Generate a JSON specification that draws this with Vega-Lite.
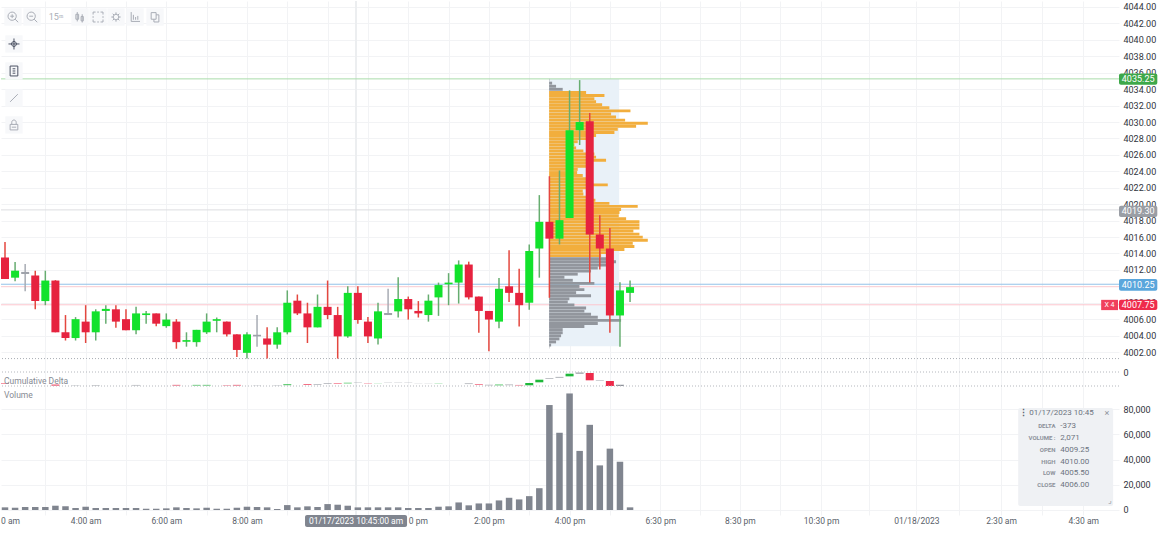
{"$schema":"https://vega.github.io/schema/vega-lite/v6.json","padding":0,"background":"white","bounds":"flush","spacing":0,"config":{"view":{"stroke":null},"font":"Roboto","concat":{"spacing":0},"scale":{"continuousPadding":0},"axis":{"labelOverlap":false,"labelBound":false,"labelFlush":false}},
"datasets":{
"candles":[
{"i":0,"o":4013.5,"h":4015.4,"l":4010.9,"c":4010.9,"d":"down"},{"i":1,"o":4011.05,"h":4012.95,"l":4010.6,"c":4011.9,"d":"up"},{"i":2,"o":4011.5,"h":4012.7,"l":4009.4,"c":4011.75,"d":"flat"},{"i":3,"o":4011.3,"h":4011.9,"l":4007.2,"c":4008.2,"d":"down"},{"i":4,"o":4008.2,"h":4011.9,"l":4007.7,"c":4010.7,"d":"up"},{"i":5,"o":4010.7,"h":4010.75,"l":4004.4,"c":4004.4,"d":"down"},{"i":6,"o":4004.4,"h":4006.5,"l":4003.4,"c":4003.7,"d":"down"},{"i":7,"o":4003.7,"h":4006.25,"l":4003.4,"c":4006,"d":"up"},{"i":8,"o":4005.7,"h":4007.7,"l":4003.1,"c":4004.4,"d":"down"},{"i":9,"o":4004.4,"h":4007.2,"l":4003.4,"c":4006.95,"d":"up"},
{"i":10,"o":4007,"h":4007.7,"l":4005.45,"c":4007.25,"d":"up"},{"i":11,"o":4007.2,"h":4007.7,"l":4004.95,"c":4005.7,"d":"down"},{"i":12,"o":4006,"h":4007.2,"l":4004.65,"c":4004.65,"d":"down"},{"i":13,"o":4004.65,"h":4007.5,"l":4004.15,"c":4006.7,"d":"up"},{"i":14,"o":4006.5,"h":4007,"l":4005.45,"c":4006.7,"d":"up"},{"i":15,"o":4006.7,"h":4006.7,"l":4005.15,"c":4005.45,"d":"down"},{"i":16,"o":4005.15,"h":4006.7,"l":4004.95,"c":4005.95,"d":"up"},{"i":17,"o":4005.7,"h":4006,"l":4002.4,"c":4003.2,"d":"down"},{"i":18,"o":4003.25,"h":4004.4,"l":4002.65,"c":4003.45,"d":"up"},{"i":19,"o":4003.2,"h":4004.7,"l":4002.65,"c":4004.7,"d":"up"},
{"i":20,"o":4004.4,"h":4006.7,"l":4004.2,"c":4005.7,"d":"up"},{"i":21,"o":4005.8,"h":4006.2,"l":4004.4,"c":4006,"d":"up"},{"i":22,"o":4005.7,"h":4005.7,"l":4003.9,"c":4004.15,"d":"down"},{"i":23,"o":4004.15,"h":4004.15,"l":4001.4,"c":4002.25,"d":"down"},{"i":24,"o":4001.9,"h":4004.4,"l":4001.2,"c":4004.15,"d":"up"},{"i":25,"o":4003.9,"h":4006.5,"l":4002.65,"c":4004.1,"d":"flat"},{"i":26,"o":4003.65,"h":4005,"l":4001.2,"c":4002.9,"d":"down"},{"i":27,"o":4002.9,"h":4005,"l":4002.4,"c":4004.4,"d":"up"},{"i":28,"o":4004.4,"h":4009.5,"l":4004.15,"c":4008,"d":"up"},{"i":29,"o":4008.25,"h":4009,"l":4006.5,"c":4006.7,"d":"down"},
{"i":30,"o":4006.7,"h":4008,"l":4003.1,"c":4005,"d":"down"},{"i":31,"o":4005,"h":4009,"l":4005,"c":4007.5,"d":"up"},{"i":32,"o":4007.5,"h":4010.7,"l":4006,"c":4006.5,"d":"down"},{"i":33,"o":4006.5,"h":4007.5,"l":4001.2,"c":4003.9,"d":"down"},{"i":34,"o":4003.9,"h":4010,"l":4003.75,"c":4009.2,"d":"up"},{"i":35,"o":4009.2,"h":4010,"l":4005.45,"c":4005.9,"d":"down"},{"i":36,"o":4005.7,"h":4006.25,"l":4003.1,"c":4003.9,"d":"down"},{"i":37,"o":4003.65,"h":4008,"l":4002.9,"c":4006.95,"d":"up"},{"i":38,"o":4006.5,"h":4009.7,"l":4006.5,"c":4006.75,"d":"flat"},{"i":39,"o":4006.95,"h":4011.1,"l":4006.2,"c":4008.45,"d":"up"},
{"i":40,"o":4008.45,"h":4008.75,"l":4005.95,"c":4007.2,"d":"down"},{"i":41,"o":4007,"h":4008.2,"l":4006.2,"c":4006.7,"d":"down"},{"i":42,"o":4006.5,"h":4009,"l":4005.7,"c":4008.25,"d":"up"},{"i":43,"o":4008.65,"h":4010.45,"l":4006.4,"c":4010.15,"d":"up"},{"i":44,"o":4010.25,"h":4011.6,"l":4007.7,"c":4010.45,"d":"up"},{"i":45,"o":4010.45,"h":4013.15,"l":4007.9,"c":4012.65,"d":"up"},{"i":46,"o":4012.65,"h":4013,"l":4008.4,"c":4008.65,"d":"down"},{"i":47,"o":4008.75,"h":4008.75,"l":4004.35,"c":4007,"d":"down"},{"i":48,"o":4007,"h":4007,"l":4002.1,"c":4005.95,"d":"down"},{"i":49,"o":4005.7,"h":4011,"l":4004.9,"c":4009.7,"d":"up"},
{"i":50,"o":4010,"h":4014.4,"l":4008.1,"c":4009.2,"d":"down"},{"i":51,"o":4009.2,"h":4012.15,"l":4005.1,"c":4007.7,"d":"down"},{"i":52,"o":4008,"h":4015.1,"l":4007.15,"c":4014.3,"d":"up"},{"i":53,"o":4014.6,"h":4021.1,"l":4011.05,"c":4017.85,"d":"up"},{"i":54,"o":4017.85,"h":4023.4,"l":4008.6,"c":4015.8,"d":"down"},{"i":55,"o":4015.8,"h":4024.1,"l":4015.1,"c":4018.05,"d":"up"},{"i":56,"o":4018.3,"h":4033.85,"l":4018.3,"c":4029,"d":"up"},{"i":57,"o":4029,"h":4035.1,"l":4027.2,"c":4030,"d":"up"},{"i":58,"o":4030.1,"h":4031.1,"l":4010.45,"c":4016.3,"d":"down"},{"i":59,"o":4016.3,"h":4018.65,"l":4012.05,"c":4014.6,"d":"down"},
{"i":60,"o":4014.6,"h":4017.1,"l":4004.35,"c":4006.45,"d":"down"},{"i":61,"o":4006.45,"h":4010.5,"l":4002.65,"c":4009.5,"d":"up"},{"i":62,"o":4009.2,"h":4010.7,"l":4008.1,"c":4009.9,"d":"up"}],
"profile":[
{"p":4035.1,"e":54,"z":"out"},{"p":4034.73,"e":54.27,"z":"out"},{"p":4034.35,"e":54.66,"z":"out"},{"p":4033.98,"e":55.32,"z":"out"},{"p":4033.6,"e":57.64,"z":"va"},{"p":4033.23,"e":59.46,"z":"va"},{"p":4032.85,"e":58.46,"z":"va"},{"p":4032.48,"e":58.63,"z":"va"},{"p":4032.1,"e":59.23,"z":"va"},{"p":4031.73,"e":59.95,"z":"va"},{"p":4031.35,"e":62.04,"z":"va"},{"p":4030.98,"e":60.12,"z":"va"},{"p":4030.6,"e":60.61,"z":"va"},{"p":4030.23,"e":61.51,"z":"va"},{"p":4029.85,"e":63.76,"z":"va"},{"p":4029.48,"e":62.6,"z":"va"},{"p":4029.1,"e":60.78,"z":"va"},{"p":4028.73,"e":60.45,"z":"va"},{"p":4028.35,"e":58.63,"z":"va"},{"p":4027.98,"e":57.8,"z":"va"},{"p":4027.6,"e":56.81,"z":"va"},{"p":4027.23,"e":56.48,"z":"va"},{"p":4026.85,"e":56.65,"z":"va"},{"p":4026.48,"e":57.37,"z":"va"},{"p":4026.1,"e":58.46,"z":"va"},{"p":4025.73,"e":58.63,"z":"va"},{"p":4025.35,"e":59.62,"z":"va"},{"p":4024.98,"e":58.13,"z":"va"},{"p":4024.6,"e":57.8,"z":"va"},{"p":4024.23,"e":56.81,"z":"va"},{"p":4023.85,"e":56.75,"z":"va"},{"p":4023.48,"e":57.31,"z":"va"},{"p":4023.1,"e":57.64,"z":"va"},{"p":4022.73,"e":58.04,"z":"va"},{"p":4022.35,"e":59.79,"z":"va"},{"p":4021.98,"e":57.9,"z":"va"},{"p":4021.6,"e":57.31,"z":"va"},{"p":4021.23,"e":57.37,"z":"va"},{"p":4020.85,"e":58.2,"z":"va"},{"p":4020.48,"e":58.56,"z":"va"},{"p":4020.1,"e":59.95,"z":"va"},{"p":4019.73,"e":62.76,"z":"va"},{"p":4019.35,"e":61.11,"z":"va"},{"p":4018.98,"e":60.95,"z":"va"},{"p":4018.6,"e":60.88,"z":"va"},{"p":4018.23,"e":61.61,"z":"va"},{"p":4017.85,"e":62.93,"z":"va"},{"p":4017.48,"e":62.93,"z":"va"},{"p":4017.1,"e":62.93,"z":"va"},{"p":4016.73,"e":62.33,"z":"va"},{"p":4016.35,"e":62.93,"z":"va"},{"p":4015.98,"e":63.26,"z":"va"},{"p":4015.6,"e":63.76,"z":"va"},{"p":4015.23,"e":62.27,"z":"va"},{"p":4014.85,"e":62.43,"z":"va"},{"p":4014.48,"e":61.44,"z":"va"},{"p":4014.1,"e":59.95,"z":"va"},{"p":4013.73,"e":59.13,"z":"va"},{"p":4013.35,"e":59.95,"z":"out"},{"p":4012.98,"e":60.61,"z":"out"},{"p":4012.6,"e":59.79,"z":"out"},{"p":4012.23,"e":58.8,"z":"out"},{"p":4011.85,"e":58.13,"z":"out"},{"p":4011.48,"e":56.81,"z":"out"},{"p":4011.1,"e":55.49,"z":"out"},{"p":4010.73,"e":56.32,"z":"out"},{"p":4010.35,"e":58.46,"z":"out"},{"p":4009.98,"e":56.98,"z":"out"},{"p":4009.6,"e":57.47,"z":"out"},{"p":4009.23,"e":56.65,"z":"out"},{"p":4008.85,"e":58.13,"z":"out"},{"p":4008.48,"e":55.98,"z":"out"},{"p":4008.1,"e":55.82,"z":"out"},{"p":4007.73,"e":56.48,"z":"out"},{"p":4007.35,"e":57.64,"z":"out"},{"p":4006.98,"e":57.47,"z":"out"},{"p":4006.6,"e":58.13,"z":"out"},{"p":4006.23,"e":58.8,"z":"out"},{"p":4005.85,"e":61.11,"z":"out"},{"p":4005.48,"e":58.8,"z":"out"},{"p":4005.1,"e":57.47,"z":"out"},{"p":4004.73,"e":55.32,"z":"out"},{"p":4004.35,"e":55.32,"z":"out"},{"p":4003.98,"e":55.16,"z":"out"},{"p":4003.6,"e":54.99,"z":"out"},{"p":4003.23,"e":54.66,"z":"out"},{"p":4002.85,"e":54.17,"z":"out"},{"p":4002.6,"e":54,"z":"out"}],
"levels":[{"p":4035.25,"k":"high"},{"p":4019.3,"k":"mid"},{"p":4009.95,"k":"band"},{"p":4010.25,"k":"last"},{"p":4007.75,"k":"pos"}],
"badges":[{"label":"4035.25","lo":4034.55,"hi":4035.9,"m":4035.2,"k":"high"},{"label":"4019.30","lo":4018.45,"hi":4019.8,"m":4019.12,"k":"mid"},{"label":"4010.25","lo":4009.45,"hi":4010.9,"m":4010.15,"k":"last"},{"label":"4007.75","lo":4007.1,"hi":4008.35,"m":4007.72,"k":"pos"}],
"tools":[{"t":"in","x":0.79,"y":4042.78,"g":"light"},{"t":"out","x":2.68,"y":4042.78,"g":"light"},{"t":"bars","x":7.44,"y":4042.78,"g":"light"},{"t":"sel","x":9.23,"y":4042.78,"g":"light"},{"t":"gear","x":11.01,"y":4042.78,"g":"light"},{"t":"chart","x":12.9,"y":4042.78,"g":"light"},{"t":"copy","x":14.88,"y":4042.78,"g":"light"},{"t":"cross","x":0.89,"y":4039.5,"g":"dark"},{"t":"box","x":0.89,"y":4036.21,"g":"dark"},{"t":"line","x":0.89,"y":4032.92,"g":"light"},{"t":"lock","x":0.89,"y":4029.64,"g":"light"}],
"delta":[{"i":0,"a":-810,"b":-830,"d":"down"},{"i":5,"a":-900,"b":-970,"d":"down"},{"i":7,"a":-930,"b":-950,"d":"flat"},{"i":9,"a":-930,"b":-960,"d":"flat"},{"i":13,"a":-925,"b":-960,"d":"flat"},{"i":17,"a":-920,"b":-965,"d":"down"},{"i":19,"a":-920,"b":-965,"d":"up"},{"i":20,"a":-920,"b":-965,"d":"up"},{"i":22,"a":-935,"b":-960,"d":"down"},{"i":23,"a":-920,"b":-965,"d":"down"},{"i":25,"a":-950,"b":-965,"d":"flat"},{"i":27,"a":-945,"b":-965,"d":"flat"},{"i":28,"a":-880,"b":-940,"d":"up"},{"i":30,"a":-880,"b":-930,"d":"down"},{"i":31,"a":-890,"b":-930,"d":"flat"},{"i":32,"a":-810,"b":-850,"d":"flat"},{"i":33,"a":-800,"b":-835,"d":"down"},{"i":34,"a":-770,"b":-810,"d":"up"},{"i":35,"a":-750,"b":-770,"d":"flat"},{"i":36,"a":-790,"b":-810,"d":"down"},{"i":37,"a":-790,"b":-800,"d":"up"},{"i":38,"a":-760,"b":-775,"d":"flat"},{"i":39,"a":-760,"b":-775,"d":"flat"},{"i":40,"a":-760,"b":-775,"d":"flat"},{"i":41,"a":-840,"b":-850,"d":"flat"},{"i":42,"a":-840,"b":-850,"d":"flat"},{"i":43,"a":-800,"b":-815,"d":"up"},{"i":46,"a":-820,"b":-860,"d":"flat"},{"i":47,"a":-880,"b":-920,"d":"down"},{"i":48,"a":-915,"b":-950,"d":"flat"},{"i":49,"a":-900,"b":-950,"d":"up"},{"i":50,"a":-900,"b":-940,"d":"flat"},{"i":51,"a":-925,"b":-955,"d":"down"},{"i":52,"a":-786,"b":-950,"d":"up"},{"i":53,"a":-550,"b":-736,"d":"up"},{"i":54,"a":-450,"b":-490,"d":"flat"},{"i":55,"a":-350,"b":-400,"d":"flat"},{"i":56,"a":-120,"b":-310,"d":"up"},{"i":57,"a":-40,"b":-120,"d":"flat"},{"i":58,"a":-70,"b":-593,"d":"down"},{"i":59,"a":-610,"b":-640,"d":"flat"},{"i":60,"a":-643,"b":-1000,"d":"down"},{"i":61,"a":-910,"b":-1000,"d":"flat"}],
"volume":[{"i":0,"v":2100},{"i":1,"v":1800},{"i":2,"v":2400},{"i":3,"v":2400},{"i":4,"v":2400},{"i":5,"v":3400},{"i":6,"v":2900},{"i":7,"v":1600},{"i":8,"v":2600},{"i":9,"v":1600},{"i":10,"v":1600},{"i":11,"v":1600},{"i":12,"v":1600},{"i":13,"v":1600},{"i":14,"v":1000},{"i":15,"v":1000},{"i":16,"v":1300},{"i":17,"v":2100},{"i":18,"v":1600},{"i":19,"v":1300},{"i":20,"v":1800},{"i":21,"v":1000},{"i":22,"v":1000},{"i":23,"v":1800},{"i":24,"v":2600},{"i":25,"v":2400},{"i":26,"v":2100},{"i":27,"v":800},{"i":28,"v":3900},{"i":29,"v":2100},{"i":30,"v":2900},{"i":31,"v":2400},{"i":32,"v":4700},{"i":33,"v":4200},{"i":34,"v":3400},{"i":35,"v":2071},{"i":36,"v":2100},{"i":37,"v":2100},{"i":38,"v":2100},{"i":39,"v":2100},{"i":40,"v":1600},{"i":41,"v":1600},{"i":42,"v":1600},{"i":43,"v":2600},{"i":44,"v":2900},{"i":45,"v":6000},{"i":46,"v":3700},{"i":47,"v":5200},{"i":48,"v":5200},{"i":49,"v":7600},{"i":50,"v":9700},{"i":51,"v":8400},{"i":52,"v":11000},{"i":53,"v":17300},{"i":54,"v":83300},{"i":55,"v":61300},{"i":56,"v":92500},{"i":57,"v":46900},{"i":58,"v":67600},{"i":59,"v":35400},{"i":60,"v":48700},{"i":61,"v":38300},{"i":62,"v":2100}],
"card":[{"l":"DELTA","t":"-373","r":66667},{"l":"VOLUME :","t":"2,071","r":57143},{"l":"OPEN","t":"4009.25","r":47619},{"l":"HIGH","t":"4010.00","r":38095},{"l":"LOW","t":"4005.50","r":28968},{"l":"CLOSE","t":"4006.00","r":19841}],
"one":[{"a":1}]
},
"vconcat":[
{"width":1118,"height":358,"resolve":{"scale":{"color":"independent","shape":"independent"}},"layer":[
{"data":{"name":"one"},"mark":{"type":"rect","fill":"#e9f1f8"},"encoding":{
"x":{"datum":53.97,"type":"quantitative","title":null,"scale":{"domain":[-0.397,110.5],"nice":false,"zero":false,"padding":0},"axis":{"values":[4,8,12,16,20,24,28,32,36,40,44,48,52,56,60,65,68.95,72.9,76.9,80.95,85.7,90.4,94.6,98.8,102.9,106.95],"tickCount":100,"grid":true,"gridColor":"#f2f3f5","gridWidth":1,"labels":false,"ticks":false,"domain":false,"title":null}},
"x2":{"datum":60.92},
"y":{"datum":4002.7,"type":"quantitative","title":null,"scale":{"domain":[4001.15,4044.73],"nice":false,"zero":false},"axis":{"orient":"right","values":[4002,4004,4006,4008,4010,4012,4014,4016,4018,4020,4022,4024,4026,4028,4030,4032,4034,4036,4038,4040,4042,4044],"tickCount":100,"labelExpr":"datum.value==4010?'':format(datum.value,'.2f')","grid":true,"gridColor":"#f2f3f5","ticks":false,"domain":false,"title":null,"labelFont":"Roboto","labelFontSize":9,"labelColor":"#30343c","labelPadding":4}},
"y2":{"datum":4035.25}}},
{"data":{"name":"one"},"mark":{"type":"rule","color":"#eceef0","strokeWidth":2},"encoding":{"x":{"datum":34.82,"type":"quantitative","title":null}}},
{"data":{"name":"levels"},"mark":{"type":"rule"},"encoding":{"y":{"field":"p","type":"quantitative","title":null},"color":{"field":"k","type":"nominal","legend":null,"scale":{"domain":["high","mid","band","last","pos"],"range":["#a9dcaa","#dcdde0","#fbccd2","#93c3e8","#fcc6ce"]}},"size":{"field":"k","type":"ordinal","legend":null,"scale":{"domain":["high","mid","band","last","pos"],"range":[1,1,2.5,1,3]}}}},
{"data":{"name":"one"},"mark":{"type":"rule","color":"#a9adb4","strokeWidth":1,"strokeDash":[1,2]},"encoding":{"y":{"datum":4001.2,"type":"quantitative","title":null}}},
{"data":{"name":"profile"},"mark":{"type":"rule","strokeWidth":2.9},"encoding":{"x":{"field":"e","type":"quantitative","title":null},"x2":{"datum":53.97},"y":{"field":"p","type":"quantitative","title":null},"color":{"field":"z","type":"nominal","legend":null,"scale":{"domain":["va","out"],"range":["#f2ae3d","#92969d"]}}}},
{"data":{"name":"candles"},"mark":{"type":"rule","strokeWidth":1.5},"encoding":{"x":{"field":"i","type":"quantitative","title":null},"y":{"field":"l","type":"quantitative","title":null},"y2":{"field":"h"},"color":{"field":"d","type":"nominal","legend":null,"scale":{"domain":["up","down","flat"],"range":["#66ad70","#e4473f","#a8acb4"]}}}},
{"data":{"name":"candles"},"mark":{"type":"bar","width":8,"orient":"vertical"},"encoding":{"x":{"field":"i","type":"quantitative","title":null},"y":{"field":"o","type":"quantitative","title":null},"y2":{"field":"c"},"color":{"field":"d","type":"nominal","legend":null,"scale":{"domain":["up","down","flat"],"range":["#12e22c","#e6233f","#9ea2aa"]}}}},
{"data":{"name":"badges"},"mark":{"type":"rect","cornerRadius":2},"encoding":{"x":{"datum":110.5,"type":"quantitative","title":null},"x2":{"datum":114.3},"y":{"field":"lo","type":"quantitative","title":null},"y2":{"field":"hi"},"color":{"field":"k","type":"nominal","legend":null,"scale":{"domain":["high","mid","last","pos"],"range":["#3ea84a","#9a9ea5","#5aa6dc","#ef2c4c"]}}}},
{"data":{"name":"one"},"mark":{"type":"rect","color":"#f0405c"},"encoding":{"x":{"datum":108.73,"type":"quantitative","title":null},"x2":{"datum":110.4},"y":{"datum":4007.1,"type":"quantitative","title":null},"y2":{"datum":4008.35}}},
{"data":{"name":"one"},"mark":{"type":"text","text":"X  4","color":"white","fontSize":7,"font":"Roboto"},"encoding":{"x":{"datum":109.55,"type":"quantitative","title":null},"y":{"datum":4007.72,"type":"quantitative","title":null}}},
{"data":{"name":"badges"},"mark":{"type":"text","color":"white","fontSize":9,"font":"Roboto"},"encoding":{"x":{"datum":112.4,"type":"quantitative","title":null},"y":{"field":"m","type":"quantitative","title":null},"text":{"field":"label"}}},
{"data":{"name":"tools"},"mark":{"type":"square","size":300,"color":"#f7f8fa","opacity":1},"encoding":{"x":{"field":"x","type":"quantitative","title":null},"y":{"field":"y","type":"quantitative","title":null}}},
{"data":{"name":"tools"},"mark":{"type":"point","filled":false,"size":121,"strokeWidth":1,"opacity":1},"encoding":{"x":{"field":"x","type":"quantitative","title":null},"y":{"field":"y","type":"quantitative","title":null},"color":{"field":"g","type":"nominal","legend":null,"scale":{"domain":["light","dark"],"range":["#a9adb6","#4c5263"]}},"shape":{"field":"t","type":"nominal","legend":null,"scale":{"domain":["in","out","bars","sel","gear","chart","copy","cross","box","line","lock"],"range":["M0.6,-0.15 A0.75,0.75 0 1 1 -0.9,-0.15 A0.75,0.75 0 1 1 0.6,-0.15 M-0.15,-0.5 V0.2 M-0.5,-0.15 H0.2 M0.4,0.4 L0.95,0.95","M0.6,-0.15 A0.75,0.75 0 1 1 -0.9,-0.15 A0.75,0.75 0 1 1 0.6,-0.15 M-0.5,-0.15 H0.2 M0.4,0.4 L0.95,0.95","M-0.5,-0.9 V0.8 M-0.75,-0.5 H-0.25 V0.4 H-0.75 Z M0.4,-0.5 V1 M0.2,-0.1 H0.6 V0.7 H0.2 Z","M-0.9,-0.9 H-0.45 M-0.15,-0.9 H0.15 M0.45,-0.9 H0.9 V-0.45 M0.9,-0.15 V0.15 M0.9,0.45 V0.9 H0.45 M0.15,0.9 H-0.15 M-0.45,0.9 H-0.9 V0.45 M-0.9,0.15 V-0.15 M-0.9,-0.45 V-0.9","M0.5,0 A0.5,0.5 0 1 1 -0.5,0 A0.5,0.5 0 1 1 0.5,0 M0,-0.85 V-0.5 M0,0.5 V0.85 M-0.85,0 H-0.5 M0.5,0 H0.85 M-0.6,-0.6 L-0.35,-0.35 M0.6,-0.6 L0.35,-0.35 M-0.6,0.6 L-0.35,0.35 M0.6,0.6 L0.35,0.35","M-0.7,-0.9 V0.8 H0.9 M-0.3,0.5 V-0.4 M0.1,0.5 V0 M0.5,0.5 V-0.2","M-0.7,-0.8 H0.2 V0.4 H-0.7 Z M0.2,-0.4 H0.7 V0.9 H-0.2 V0.4","M0,-1 V1 M-1,0 H1 M0.45,0 A0.45,0.45 0 1 1 -0.45,0 A0.45,0.45 0 1 1 0.45,0","M-0.7,-0.9 H0.7 V0.9 H-0.7 Z M-0.25,-0.4 H0.25 M-0.25,0 H0.25 M-0.25,0.4 H0.25","M-0.7,0.7 L0.7,-0.7","M-0.7,-0.1 H0.7 V0.9 H-0.7 Z M-0.4,-0.1 V-0.5 A0.4,0.4 0 0 1 0.4,-0.5 V-0.1 M-0.4,0.4 H0.4"]}}}},
{"data":{"name":"one"},"mark":{"type":"text","text":"15ᵐ","color":"#a9adb6","fontSize":9,"font":"Roboto"},"encoding":{"x":{"datum":5.06,"type":"quantitative","title":null},"y":{"datum":4042.78,"type":"quantitative","title":null}}}
]},
{"width":1118,"height":28,"resolve":{"scale":{"color":"independent"}},"layer":[
{"data":{"name":"one"},"mark":{"type":"rule","color":"#eceef0","strokeWidth":2},"encoding":{
"x":{"datum":34.82,"type":"quantitative","title":null,"scale":{"domain":[-0.397,110.5],"nice":false,"zero":false,"padding":0},"axis":{"values":[4,8,12,16,20,24,28,32,36,40,44,48,52,56,60,65,68.95,72.9,76.9,80.95,85.7,90.4,94.6,98.8,102.9,106.95],"tickCount":100,"grid":true,"gridColor":"#f2f3f5","labels":false,"ticks":false,"domain":false,"title":null}}}},
{"data":{"name":"delta"},"mark":{"type":"bar","width":8,"orient":"vertical"},"encoding":{"x":{"field":"i","type":"quantitative","title":null},
"y":{"field":"a","type":"quantitative","title":null,"scale":{"domain":[-1071,929],"nice":false,"zero":false},"axis":{"orient":"right","values":[0],"tickCount":100,"labelExpr":"format(datum.value,',')","grid":false,"ticks":false,"domain":false,"title":null,"labelFont":"Roboto","labelFontSize":9,"labelColor":"#30343c","labelPadding":4}},"y2":{"field":"b"},
"color":{"field":"d","type":"nominal","legend":null,"scale":{"domain":["up","down","flat"],"range":["#1fb83a","#ee2a4a","#8e929a"]}}}},
{"data":{"name":"one"},"mark":{"type":"rule","color":"#b4b7bd","strokeWidth":1,"strokeDash":[1,2]},"encoding":{"y":{"datum":0,"type":"quantitative","title":null}}},
{"data":{"name":"one"},"mark":{"type":"rule","color":"#b4b7bd","strokeWidth":1,"strokeDash":[1,2]},"encoding":{"y":{"datum":-1000,"type":"quantitative","title":null}}},
{"data":{"name":"one"},"mark":{"type":"text","text":"Cumulative Delta","align":"left","color":"#868a93","fontSize":8.5,"font":"Roboto"},"encoding":{"x":{"datum":-0.1,"type":"quantitative","title":null},"y":{"datum":-643,"type":"quantitative","title":null}}}
]},
{"width":1118,"height":128,"layer":[
{"data":{"name":"one"},"mark":{"type":"rule","color":"#eceef0","strokeWidth":2},"encoding":{
"x":{"datum":34.82,"type":"quantitative","title":null,"scale":{"domain":[-0.397,110.5],"nice":false,"zero":false,"padding":0},"axis":{"values":[4,8,12,16,20,24,28,32,36,40,44,48,52,56,60,65,68.95,72.9,76.9,80.95,85.7,90.4,94.6,98.8,102.9,106.95],"tickCount":100,"grid":true,"gridColor":"#f2f3f5","ticks":false,"domain":false,"title":null,"labelFont":"Roboto","labelFontSize":8.5,"labelColor":"#5a5f6a","labelPadding":1,"labelExpr":"{'8':'4:00 am','16':'6:00 am','24':'8:00 am','48':'2:00 pm','56':'4:00 pm','65':'6:30 pm','72.9':'8:30 pm','80.95':'10:30 pm','90.4':'01/18/2023','98.8':'2:30 am','106.95':'4:30 am'}[''+datum.value]||''"}}}},
{"data":{"name":"volume"},"mark":{"type":"bar","width":6.5,"orient":"vertical","color":"#80858f"},"encoding":{"x":{"field":"i","type":"quantitative","title":null},
"y":{"field":"v","type":"quantitative","title":null,"scale":{"domain":[-3970,97620],"nice":false,"zero":false},"axis":{"orient":"right","values":[0,20000,40000,60000,80000],"tickCount":100,"labelExpr":"format(datum.value,',')","grid":true,"gridColor":"#f2f3f5","ticks":false,"domain":false,"title":null,"labelFont":"Roboto","labelFontSize":9,"labelColor":"#30343c","labelPadding":4}},"y2":{"datum":0}}},
{"data":{"name":"one"},"mark":{"type":"text","text":"Volume","align":"left","color":"#868a93","fontSize":8.5,"font":"Roboto"},"encoding":{"x":{"datum":-0.1,"type":"quantitative","title":null},"y":{"datum":91270,"type":"quantitative","title":null}}},
{"data":{"name":"one"},"mark":{"type":"text","text":"0 am","align":"left","baseline":"middle","color":"#5a5f6a","fontSize":8.5,"font":"Roboto"},"encoding":{"x":{"datum":-0.397,"type":"quantitative","title":null},"y":{"datum":-8650,"type":"quantitative","title":null}}},
{"data":{"name":"one"},"mark":{"type":"text","text":"0 pm","align":"left","baseline":"middle","color":"#5a5f6a","fontSize":8.5,"font":"Roboto"},"encoding":{"x":{"datum":40.05,"type":"quantitative","title":null},"y":{"datum":-8650,"type":"quantitative","title":null}}},
{"data":{"name":"one"},"mark":{"type":"rect","color":"#80858f","cornerRadius":2},"encoding":{"x":{"datum":29.76,"type":"quantitative","title":null},"x2":{"datum":39.88},"y":{"datum":-3970,"type":"quantitative","title":null},"y2":{"datum":-13500}}},
{"data":{"name":"one"},"mark":{"type":"text","text":"01/17/2023 10:45:00 am","color":"white","fontSize":8.5,"font":"Roboto"},"encoding":{"x":{"datum":34.82,"type":"quantitative","title":null},"y":{"datum":-8650,"type":"quantitative","title":null}}},
{"data":{"name":"one"},"mark":{"type":"rect","color":"#eff1f4","cornerRadius":2},"encoding":{"x":{"datum":100.5,"type":"quantitative","title":null},"x2":{"datum":109.92},"y":{"datum":3175,"type":"quantitative","title":null},"y2":{"datum":80952}}},
{"data":{"name":"one"},"mark":{"type":"text","text":"⋮","color":"#5a6070","fontSize":9,"fontWeight":"bold"},"encoding":{"x":{"datum":101.0,"type":"quantitative","title":null},"y":{"datum":77380,"type":"quantitative","title":null}}},
{"data":{"name":"one"},"mark":{"type":"text","text":"01/17/2023 10:45","align":"left","color":"#6d7380","fontSize":8,"font":"Roboto"},"encoding":{"x":{"datum":101.6,"type":"quantitative","title":null},"y":{"datum":77380,"type":"quantitative","title":null}}},
{"data":{"name":"one"},"mark":{"type":"text","text":"×","color":"#8d929b","fontSize":9,"font":"Roboto"},"encoding":{"x":{"datum":109.3,"type":"quantitative","title":null},"y":{"datum":77380,"type":"quantitative","title":null}}},
{"data":{"name":"card"},"mark":{"type":"text","align":"right","color":"#8d929b","fontSize":6,"fontWeight":"bold","font":"Roboto"},"encoding":{"x":{"datum":104.2,"type":"quantitative","title":null},"y":{"field":"r","type":"quantitative","title":null},"text":{"field":"l"}}},
{"data":{"name":"card"},"mark":{"type":"text","align":"left","color":"#6d7380","fontSize":8,"font":"Roboto"},"encoding":{"x":{"datum":104.67,"type":"quantitative","title":null},"y":{"field":"r","type":"quantitative","title":null},"text":{"field":"t"}}},
{"data":{"name":"one"},"mark":{"type":"text","text":"⌟","color":"#8d929b","fontSize":8},"encoding":{"x":{"datum":109.6,"type":"quantitative","title":null},"y":{"datum":7000,"type":"quantitative","title":null}}}
]}
]}
